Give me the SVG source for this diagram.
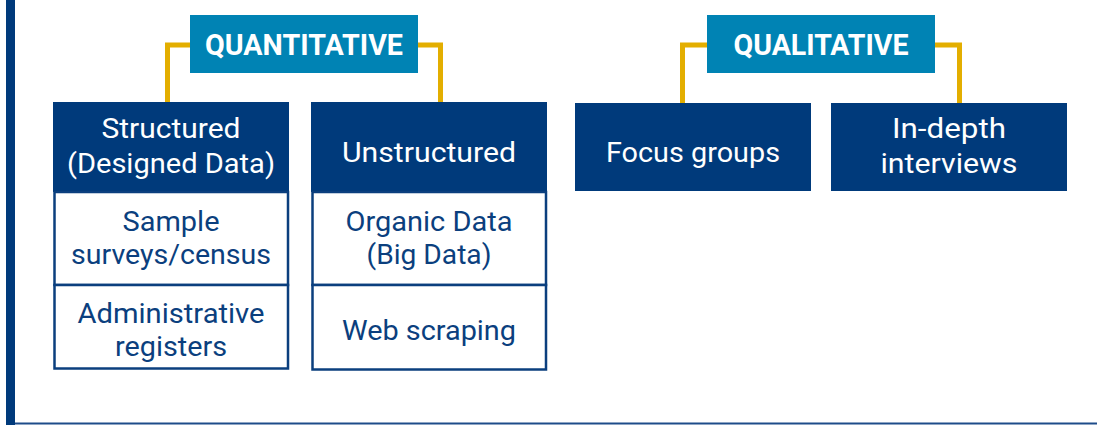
<svg xmlns="http://www.w3.org/2000/svg" width="1097" height="425" viewBox="0 0 1097 425">
  <style>
    .hdr { fill: #0083B4; }
    .nav { fill: #003A7B; }
    .cell { fill: #FFFFFF; stroke: #0B3F7E; stroke-width: 2.5; }
    .conn { fill: none; stroke: #E3AE00; stroke-width: 5; stroke-linejoin: miter; }
    .tb { font-family: Roboto, "Liberation Sans", sans-serif; font-weight: 700; font-size: 29px; fill: #FFFFFF; text-anchor: middle; }
    .tw { font-family: Roboto, "Liberation Sans", sans-serif; font-weight: 400; font-size: 28px; fill: #FFFFFF; text-anchor: middle; }
    .tn { font-family: Roboto, "Liberation Sans", sans-serif; font-weight: 400; font-size: 28px; fill: #0B3F7E; text-anchor: middle; }
  </style>
  <rect x="0" y="0" width="1097" height="425" fill="#FFFFFF"/>
  <rect x="6" y="0" width="9" height="425" fill="#003A7B"/>
  <rect x="15" y="422.5" width="1082" height="2" fill="#1E4C8A"/>

  <g id="connectors">
    <path class="conn" d="M190 45 H167.5 V102"/>
    <path class="conn" d="M418 45 H440.5 V102"/>
    <path class="conn" d="M707 45 H682.5 V103"/>
    <path class="conn" d="M935 45 H959.5 V103"/>
  </g>

  <g id="quantitative">
    <rect class="hdr" x="190" y="15" width="228" height="58"/>
    <text class="tb" x="304" y="55" textLength="198" lengthAdjust="spacingAndGlyphs">QUANTITATIVE</text>
  </g>

  <g id="qualitative">
    <rect class="hdr" x="707" y="15" width="228" height="58"/>
    <text class="tb" x="821" y="55" textLength="175" lengthAdjust="spacingAndGlyphs">QUALITATIVE</text>
  </g>

  <g id="structured">
    <rect class="nav" x="53" y="102" width="236" height="90"/>
    <text class="tw" x="171" y="137.5" textLength="139" lengthAdjust="spacingAndGlyphs">Structured</text>
    <text class="tw" x="171" y="172.5" textLength="208" lengthAdjust="spacingAndGlyphs">(Designed Data)</text>
  </g>

  <g id="sample-surveys">
    <rect class="cell" x="54.5" y="192" width="233.5" height="93"/>
    <text class="tn" x="171" y="230.5" textLength="97" lengthAdjust="spacingAndGlyphs">Sample</text>
    <text class="tn" x="171" y="263.5" textLength="200" lengthAdjust="spacingAndGlyphs">surveys/census</text>
  </g>

  <g id="admin-registers">
    <rect class="cell" x="54.5" y="285" width="233.5" height="83.5"/>
    <text class="tn" x="171" y="322.5" textLength="187" lengthAdjust="spacingAndGlyphs">Administrative</text>
    <text class="tn" x="171" y="355.5" textLength="112" lengthAdjust="spacingAndGlyphs">registers</text>
  </g>

  <g id="unstructured">
    <rect class="nav" x="311" y="102" width="236" height="90"/>
    <text class="tw" x="429" y="161.5" textLength="174" lengthAdjust="spacingAndGlyphs">Unstructured</text>
  </g>

  <g id="organic-data">
    <rect class="cell" x="312.5" y="192" width="233.5" height="93"/>
    <text class="tn" x="429" y="230.5" textLength="167" lengthAdjust="spacingAndGlyphs">Organic Data</text>
    <text class="tn" x="429" y="263.5" textLength="125" lengthAdjust="spacingAndGlyphs">(Big Data)</text>
  </g>

  <g id="web-scraping">
    <rect class="cell" x="312.5" y="285" width="233.5" height="84.5"/>
    <text class="tn" x="429" y="339.5" textLength="174" lengthAdjust="spacingAndGlyphs">Web scraping</text>
  </g>

  <g id="focus-groups">
    <rect class="nav" x="575" y="103" width="236" height="88"/>
    <text class="tw" x="693" y="161.5" textLength="174" lengthAdjust="spacingAndGlyphs">Focus groups</text>
  </g>

  <g id="in-depth-interviews">
    <rect class="nav" x="831" y="103" width="236" height="88"/>
    <text class="tw" x="949" y="138" textLength="114" lengthAdjust="spacingAndGlyphs">In-depth</text>
    <text class="tw" x="949" y="173" textLength="137" lengthAdjust="spacingAndGlyphs">interviews</text>
  </g>
</svg>
